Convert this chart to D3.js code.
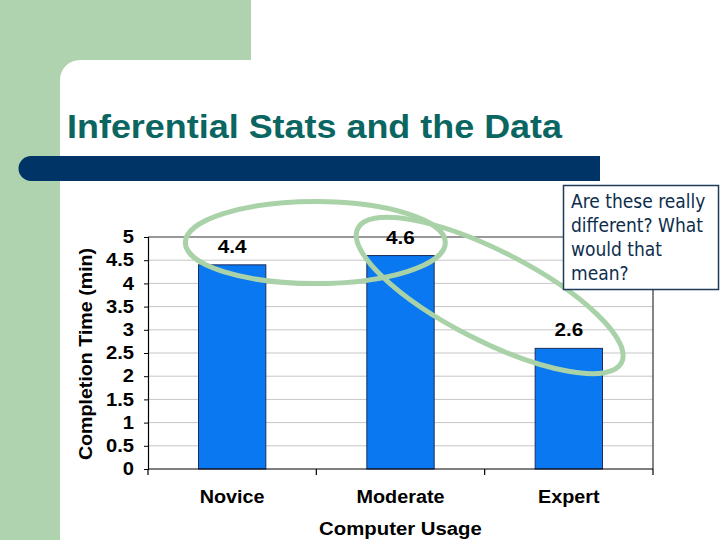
<!DOCTYPE html>
<html>
<head>
<meta charset="utf-8">
<script src="https://cdn.jsdelivr.net/npm/d3@7"></script>
<style>
  html, body { margin: 0; padding: 0; background: #fff; }
  svg { display: block; }
</style>
</head>
<body>
<svg id="chart" width="720" height="540"></svg>
<script>
// ---- data ----
const categories = ["Novice", "Moderate", "Expert"];
const values = [4.4, 4.6, 2.6];
const yTicks = [0, 0.5, 1, 1.5, 2, 2.5, 3, 3.5, 4, 4.5, 5];
const yTickLabels = ["0", "0.5", "1", "1.5", "2", "2.5", "3", "3.5", "4", "4.5", "5"];
const titleText = "Inferential Stats and the Data";
const xTitle = "Computer Usage";
const yTitle = "Completion Time (min)";
const calloutLines = ["Are these really", "different? What", "would that", "mean?"];

(function () {
const svg = d3.select("#chart");
const FONT = "'Liberation Sans', Arial, sans-serif";

function stretch(sel, k) {
  sel.each(function () {
    const L = this.getComputedTextLength();
    d3.select(this).attr("textLength", L * k).attr("lengthAdjust", "spacingAndGlyphs");
  });
  return sel;
}

// ---- slide background ----
const green = "#afd3ae";
svg.append("rect").attr("x", 0).attr("y", 0).attr("width", 720).attr("height", 540).attr("fill", "#fff");
svg.append("rect").attr("x", 0).attr("y", 0).attr("width", 251).attr("height", 60).attr("fill", green);
svg.append("rect").attr("x", 0).attr("y", 0).attr("width", 60).attr("height", 540).attr("fill", green);
svg.append("path").attr("d", "M60,60 L80,60 A20,20 0 0 0 60,80 Z").attr("fill", green);

// title
const title = svg.append("text").attr("x", 67).attr("y", 138)
  .attr("font-family", FONT).attr("font-weight", "bold").attr("font-size", 34)
  .attr("fill", "#0b6661").text(titleText);
title.attr("textLength", 495).attr("lengthAdjust", "spacingAndGlyphs");

// dark bar
svg.append("path")
  .attr("d", "M31,156 L600,156 L600,181 L31,181 A12.5,12.5 0 0 1 31,156 Z")
  .attr("fill", "#003366");

// ---- chart ----
const pL = 148, pR = 653, pT = 237, pB = 469;
const x = d3.scaleBand().domain(categories).range([pL, pR]).paddingInner(0.6).paddingOuter(0.3);
const y = d3.scaleLinear().domain([0, 5]).range([pB, pT]);

const g = svg.append("g");

g.selectAll("line.grid").data(yTicks.filter(t => t > 0 && t < 5)).enter().append("line")
  .attr("x1", pL).attr("x2", pR).attr("y1", d => y(d)).attr("y2", d => y(d))
  .attr("stroke", "#c6c6c6").attr("stroke-width", 1);

g.append("line").attr("x1", pL).attr("x2", pR).attr("y1", y(5)).attr("y2", y(5))
  .attr("stroke", "#333").attr("stroke-width", 1.2);
g.append("line").attr("x1", pR).attr("x2", pR).attr("y1", y(5)).attr("y2", pB)
  .attr("stroke", "#333").attr("stroke-width", 1.2);

g.selectAll("rect.bar").data(values).enter().append("rect")
  .attr("x", (d, i) => x(categories[i]))
  .attr("width", x.bandwidth())
  .attr("y", d => y(d))
  .attr("height", d => pB - y(d))
  .attr("fill", "#0a78f0")
  .attr("stroke", "#1b2d5c").attr("stroke-width", 1);

const yAxis = d3.axisLeft(y).tickValues(yTicks).tickFormat((d, i) => yTickLabels[i]).tickSize(4).tickPadding(10);
const ya = g.append("g").attr("transform", `translate(${pL},0)`).call(yAxis);
ya.select(".domain").attr("stroke", "#000").attr("stroke-width", 1.2);
ya.selectAll(".tick line").attr("stroke", "#000");
ya.selectAll(".tick text").attr("font-family", FONT).attr("font-weight", "bold")
  .attr("font-size", 18).attr("fill", "#000");
stretch(ya.selectAll(".tick text"), 1.12);

g.append("line").attr("x1", pL).attr("x2", pR).attr("y1", pB).attr("y2", pB)
  .attr("stroke", "#000").attr("stroke-width", 1.2);
const step = x.step();
const seps = d3.range(categories.length + 1).map(i => pL + i * step);
g.selectAll("line.sep").data(seps).enter().append("line")
  .attr("x1", d => d).attr("x2", d => d).attr("y1", pB).attr("y2", pB + 6)
  .attr("stroke", "#000").attr("stroke-width", 1.2);

const xl = g.selectAll("text.xl").data(categories).enter().append("text")
  .attr("x", d => x(d) + x.bandwidth() / 2).attr("y", 503)
  .attr("text-anchor", "middle").attr("font-family", FONT).attr("font-weight", "bold")
  .attr("font-size", 18).attr("fill", "#000").text(d => d);
stretch(xl, 1.1);

const vl = g.selectAll("text.vl").data(values).enter().append("text")
  .attr("x", (d, i) => x(categories[i]) + x.bandwidth() / 2).attr("y", d => y(d) - 12)
  .attr("text-anchor", "middle").attr("font-family", FONT).attr("font-weight", "bold")
  .attr("font-size", 18).attr("fill", "#000").text(d => d.toFixed(1));
stretch(vl, 1.15);

const xt = g.append("text").attr("x", (pL + pR) / 2).attr("y", 535)
  .attr("text-anchor", "middle").attr("font-family", FONT).attr("font-weight", "bold")
  .attr("font-size", 18).attr("fill", "#000").text(xTitle);
stretch(xt, 1.13);
const yt = g.append("text").attr("transform", `translate(92,${(y(0) + y(5)) / 2 + 1}) rotate(-90)`)
  .attr("text-anchor", "middle").attr("font-family", FONT).attr("font-weight", "bold")
  .attr("font-size", 18).attr("fill", "#000").text(yTitle);
stretch(yt, 1.09);

// ---- annotations: ellipses ----
const ec = "#a9d2a8";
const c1x = (x("Novice") + x("Moderate") + x.bandwidth()) / 2;
svg.append("ellipse").attr("cx", c1x - 1).attr("cy", y(4.88)).attr("rx", 130).attr("ry", 41)
  .attr("fill", "none").attr("stroke", ec).attr("stroke-width", 5);
const c2x = (x("Moderate") + x("Expert") + x.bandwidth()) / 2;
svg.append("ellipse").attr("cx", 0).attr("cy", 0).attr("rx", 148).attr("ry", 45)
  .attr("transform", `translate(${c2x + 5},${y(3.74)}) rotate(27)`)
  .attr("fill", "none").attr("stroke", ec).attr("stroke-width", 5);

// ---- callout ----
svg.append("rect").attr("x", 563.5).attr("y", 185.5).attr("width", 155).attr("height", 104)
  .attr("fill", "#fff").attr("stroke", "#1d3b5a").attr("stroke-width", 1.5);
const ct = svg.append("text").attr("font-family", "'DejaVu Sans Condensed', 'DejaVu Sans', sans-serif")
  .attr("font-size", 19).attr("fill", "#0d2d4d");
ct.selectAll("tspan").data(calloutLines).enter().append("tspan")
  .attr("x", 571).attr("y", (d, i) => 208 + i * 24).text(d => d);
})();
</script>
</body>
</html>
